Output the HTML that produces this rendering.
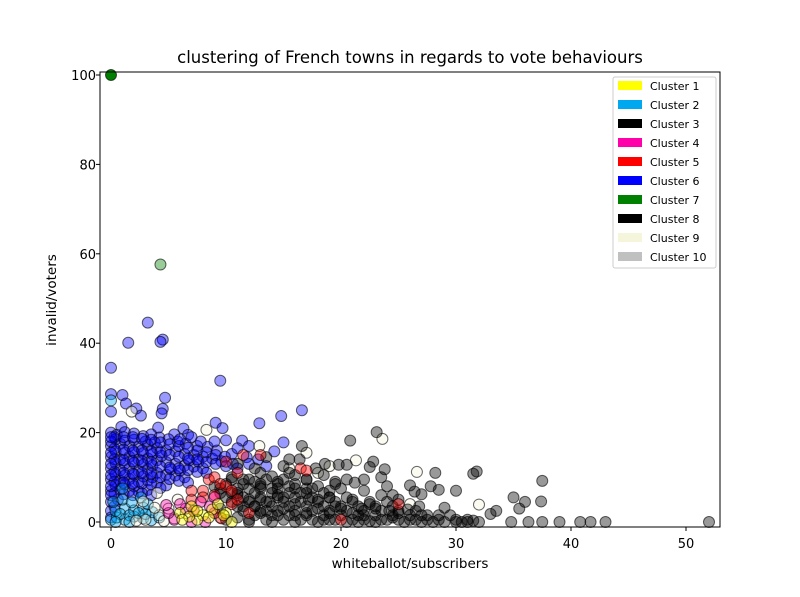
<!DOCTYPE html>
<html><head><meta charset="utf-8"><style>
body{margin:0;background:#fff;font-family:"Liberation Sans","DejaVu Sans",sans-serif}
svg text{font-family:"DejaVu Sans","Liberation Sans",sans-serif}
</style></head><body>
<svg id="chart" width="800" height="592">
<rect width="800" height="592" fill="#fff"/>
<text x="410" y="63" font-size="16.5" text-anchor="middle">clustering of French towns in regards to vote behaviours</text>
<g id="marks"></g>
<rect x="100" y="72" width="620" height="455" fill="none" stroke="#000" stroke-width="1"/>
<g id="axes"></g>
<text x="410" y="568" font-size="13.5" text-anchor="middle">whiteballot/subscribers</text>
<text transform="translate(56,300) rotate(-90)" font-size="13.5" text-anchor="middle">invalid/voters</text>
<g id="legend"></g>
</svg>
<script>
const xTicks=[0,10,20,30,40,50];
const yTicks=[0,20,40,60,80,100];
const clusterNames=["Cluster 1","Cluster 2","Cluster 3","Cluster 4","Cluster 5","Cluster 6","Cluster 7","Cluster 8","Cluster 9","Cluster 10"];
const clusterColors=["#ffff00","#00a8f0","#000000","#ff00aa","#ff0000","#0000ff","#008000","#000000","#f5f5dc","#c0c0c0"];
const blue=[[3.2,44.6],[1.5,40.1],[4.5,40.8],[4.3,40.3],[0,34.5],[9.5,31.6],[0,28.6],[1,28.4],[4.7,27.8],[1.3,26.5],[4.5,25.3],[2.2,25.4],[4.4,24.3],[0,24.7],[2.6,23.8],[14.8,23.7],[16.6,25],[9.1,22.2],[12.9,22.1],[0.9,21.3],[4.1,21.1],[6.3,20.9],[9.7,21],[6.7,19.5],[5.5,19.6],[10,18.3],[11.4,18.2],[15,17.8],[14.2,15.8],[12,17],
[0,20],[0.5,19.5],[1.2,20.1],[2,19.8],[2.8,19.2],[3.5,19.6],[4.2,18.9],[5,18.5],[5.8,18],[6.5,17.5],[7.5,17],[8.4,16.8],[9.2,16],[10.5,15.2],[11.8,14.5],[12.8,14],[0,17],[0.8,17.5],[1.6,17],[2.4,16.8],[3.2,17.2],[4,16.5],[4.8,16],[5.6,15.8],[6.4,15.2],[7.2,15],[8,14.6],[8.8,14.2],[9.6,13.6],[10.6,13],[0,14.5],[0.8,14],[1.6,14.6],[2.4,14],[3.2,14.2],[4,13.8],[4.8,13.4],[5.6,13],[6.4,12.6],[7.2,12.4],[8,12],[0,12],[0.8,11.6],[1.6,12],[2.4,11.4],[3.2,11.8],[4,11],[4.8,10.6],[5.6,10.4],[6.4,10],[0,9.5],[0.8,9.2],[1.6,9.6],[2.4,9],[3.2,9.3],[4,8.8],[4.8,8.2],[0,7],[0.8,7.4],[1.6,7],[2.4,6.8],[3.2,7.2],[0,4.5],[0.6,5],[0,2.5],[0,1],[13.5,12.5],[11,16.5],[7,19],[9,18],
[0.4,18.5],[1.2,18.2],[2,18.4],[3,18],[3.8,17.8],[0.4,15.8],[1.2,15.5],[2,15.6],[2.8,15.4],[3.6,15.2],[4.4,14.8],[0.4,13.2],[1.2,13],[2,13.2],[2.8,12.8],[3.6,12.6],[0.4,10.6],[1.2,10.4],[2,10.6],[2.8,10.2],[3.6,10],[0.4,8.2],[1.2,8.4],[2,8],[5.2,11.8],[6,11.5],[6.8,13.8],[7.6,13.5]];
const blue2=[[0.3,19],[1.1,19],[1.9,19],[2.7,18.6],[3.5,18.4],[4.3,17.8],[5.1,17.4],[5.9,17],[6.7,16.6],[7.5,16],[8.3,15.6],[9.1,15],[9.9,14.6],[0.3,16.4],[1.1,16.2],[1.9,16],[2.7,16],[3.5,15.8],[4.3,15.6],[5.1,15],[5.9,14.6],[6.7,14.2],[7.5,14],[8.3,13.4],[9.1,13],[0.3,14],[1.1,13.8],[1.9,13.6],[2.7,13.6],[3.5,13.4],[4.3,12.4],[5.1,12.2],[5.9,12],[6.7,11.6],[7.5,11.2],[8.3,11],[0.3,11.2],[1.1,11],[1.9,10.8],[2.7,11],[3.5,10.8],[4.3,10],[5.1,9.6],[5.9,9.2],[6.7,8.8],[0.3,9],[1.1,8.8],[1.9,8.6],[2.7,8.6],[3.5,8.4],[4.3,7.6],[0.3,6.4],[1.1,6.2],[1.9,6],[2.7,6.4],[3.5,6],[0.3,3.5],[0,6],[0,8],[0,10.5],[0,13],[0,15.5],[0,18],[0,19],[10,12.5],[11,12],[12,13],[6,18.5],[7.8,18]];
const cyan=[[0,0.5],[0.5,1],[1.2,0.5],[2,1.2],[2.8,0.8],[3.5,0.4],[0.4,2.5],[1.2,3],[2,2.6],[2.8,3.2],[3.6,2.2],[0.2,4.5],[1,5],[1.8,4.4],[2.6,5.5],[0,27.2],[1,7.5],[3,1.8],[4.2,1],[0.8,1.8],[1.6,1.5],[0.4,0],[1.6,0],[2.4,2],[3.2,4]];
const beige=[[8.3,20.6],[1.8,24.7],[12.9,17],[23.6,18.6],[21.3,13.8],[26.6,11.2],[32,3.9],[3,0.5],[4.2,1.5],[5,3],[2.2,0.3],[6.5,2],[5.5,0.8],[15.5,12],[18,11],[4,6.5],[9.5,1],[17,15.5],[19,12.5],[26,4],[3.8,3.2],[4.6,0.2],[2.8,4.6],[5.8,5]];
const yellow=[[6,2],[7,3.5],[8,1.5],[7.5,0.5],[8.8,2.8],[6.8,1.2],[9.3,4],[10,2],[7.5,2.5],[8.5,1],[9.8,1.5],[6.2,0.5],[10.5,0]];
const magenta=[[5.5,0.5],[6.5,3],[7.8,4.5],[8.2,0],[9,5.5],[5,2],[6,4],[8.6,3.5],[7,0],[4.8,3.8]];
const red=[[7,5],[8,7],[9,6],[10,8],[11,11],[11.5,15],[16.5,12],[17,11.5],[10.5,4],[12,2],[20,0.5],[8.5,9.5],[25,4],[7.2,2.5],[9.6,0.8],[9,10],[9.5,8.5],[10.5,7],[11,5],[8,5.5],[9,2],[7,7],[13,15],[10,13.5]];
const green=[[0,100],[4.3,57.6]];
const black=[[52,0],[43,0],[41.7,0],[40.8,0],[39,0],[37.5,0],[37.4,4.6],[37.5,9.2],[36.3,0],[36,4.5],[35,5.5],[35.5,3],[34.8,0],[33.5,2.5],[33,1.8],[32,0],[31.8,11.3],[31.5,10.8],[31,0],[30,0],[30,7],[29.5,1.5],[29,3.2],[28.5,7.2],[28.2,11],[27.8,8],[27.5,1.5],[27,6.2],[26.4,6.8],[26,8.2],[25,5],[24.5,6],[24,4.5],[23.8,11.8],[23.5,10],[23.1,20.1],[22.8,13.5],[22.5,12.3],[22,7],[21.8,3],[21.2,8.8],[20.8,18.2],[20.5,12.8],[19.8,12.8],[19.5,9],[19,2],[18.6,13],[18,8],[17.8,12],[17.2,5],[16.6,17],[16.4,14],[16,10.5],[15.5,8],[15,12.5],[14.5,6],[14,10.2],[13.5,2.5],[13,8],[12.5,12],[12,5],[11.5,9.5],[11,1],[10.5,6.5],[10,0.5],[9.5,3],[9,8],[23,0],[24.5,1],[25.5,0],[26.5,0.5],[28,0],[29,0],[20,3],[21,5],[22,1.5],[18,0],[19,5.5],[17,2],[16,0],[15,3],[14,0],[13,5],[12,0],[11.5,3.5],[20,7.5],[22.5,4],[23.5,6],[24.2,2.5],[25.8,2.8],[26.8,3.5],[18.5,10.5],[17,7.5],[16,4],[14.5,1.5],[13,11],[12,7.5],[10.5,10],[11,13],[13.5,14.5],[15.5,14],[30.5,0],[31.5,0.3],[20.5,0],[21.5,0],[22.5,0.2],[19.5,0.5],
[14,7.5],[15,5.5],[16.5,6.5],[18,5],[19.5,3.5],[21,2],[13,2],[14.5,9],[17,9.5],[19,7],[20.5,9.5],[22,9.5],[12.5,9],[11,6],[15.5,11],[18,3],[23,3],[24,8],[25,2],[27,0],[17.5,0.5],[16,1.5],[12.5,3.5],[13.8,4.5]];
const black2=[[12,0.5],[13.5,0.5],[15,0.5],[16.5,0.5],[18.5,0.5],[19,0.5],[21,0.5],[22,0.5],[23.5,0.5],[24,0.5],[25,0.5],[26,0.5],[27.5,0.5],[28.5,0.5],[30,0.5],[31,0.5],
[12.5,1.5],[14,1.5],[15.5,1.5],[17,1.5],[18.5,1.5],[20,1.5],[21.5,1.5],[23,1.5],[24.5,1.5],[26,1.5],[27,1.5],[28.5,1.5],
[11.5,2.5],[13,2.5],[14.5,2.5],[16,2.5],[17.5,2.5],[19,2.5],[20.5,2.5],[22,2.5],[23.5,2.5],[25,2.5],[26.5,2.5],
[11,3.5],[12.5,3.5],[14,3.5],[15.5,3.5],[17,3.5],[18.5,3.5],[20,3.5],[21.5,3.5],[23,3.5],[24.5,3.5],
[10.5,4.5],[12,4.5],[13.5,4.5],[15,4.5],[16.5,4.5],[18,4.5],[19.5,4.5],[21,4.5],[22.5,4.5],
[10,5.5],[11.5,5.5],[13,5.5],[14.5,5.5],[16,5.5],[17.5,5.5],[19,5.5],[20.5,5.5],
[9.5,6.5],[11,6.5],[12.5,6.5],[14,6.5],[15.5,6.5],[17,6.5],[18.5,6.5],
[9.5,7.5],[11,7.5],[13,7.5],[14.5,7.5],[16,7.5],[17.5,7.5],
[10,8.5],[11.5,8.5],[13,8.5],[14.5,8.5],[16,8.5],[19.5,8.5],
[10.5,9.5],[12,9.5],[13.5,9.5],[15,9.5],[17,9.5]];
const series=[[blue,5],[blue2,5],[cyan,1],[beige,8],[black,2],[black2,7],[red,4],[magenta,3],[yellow,0],[green,6]];
const sx=v=>111+v*11.5, sy=v=>522-v*4.47;
const NS="http://www.w3.org/2000/svg";
const marks=document.getElementById('marks');
series.forEach(([pts,ci])=>{
  pts.forEach(p=>{
    const c=document.createElementNS(NS,'circle');
    c.setAttribute('cx',sx(p[0]));c.setAttribute('cy',sy(p[1]));c.setAttribute('r',5.5);
    c.setAttribute('fill',clusterColors[ci]);
    c.setAttribute('fill-opacity',ci===6&&p[1]>90?1:0.4);
    c.setAttribute('stroke','#000');c.setAttribute('stroke-opacity',0.6);c.setAttribute('stroke-width',1);
    
    
    marks.appendChild(c);
  });
});
const axes=document.getElementById('axes');
xTicks.forEach(t=>{
  const l=document.createElementNS(NS,'line');
  l.setAttribute('x1',sx(t));l.setAttribute('x2',sx(t));l.setAttribute('y1',527);l.setAttribute('y2',531);l.setAttribute('stroke','#000');
  
  
  axes.appendChild(l);
  const tx=document.createElementNS(NS,'text');
  tx.setAttribute('x',sx(t));tx.setAttribute('y',548);tx.setAttribute('font-size','13');tx.setAttribute('text-anchor','middle');tx.textContent=t;
  
  
  axes.appendChild(tx);
});
yTicks.forEach(t=>{
  const l=document.createElementNS(NS,'line');
  l.setAttribute('x1',96);l.setAttribute('x2',100);l.setAttribute('y1',sy(t));l.setAttribute('y2',sy(t));l.setAttribute('stroke','#000');
  
  
  axes.appendChild(l);
  const tx=document.createElementNS(NS,'text');
  tx.setAttribute('x',96);tx.setAttribute('y',sy(t)+5);tx.setAttribute('font-size','13');tx.setAttribute('text-anchor','end');tx.textContent=t;
  
  
  axes.appendChild(tx);
});
const lg=document.getElementById('legend');
const box=document.createElementNS(NS,'rect');
box.setAttribute('x',613);box.setAttribute('y',77);box.setAttribute('width',103);box.setAttribute('height',191);box.setAttribute('rx',2);
box.setAttribute('fill','#fff');box.setAttribute('fill-opacity',0.8);box.setAttribute('stroke','#ccc');


lg.appendChild(box);
clusterNames.forEach((n,i)=>{
  const y=86+i*19;
  const r=document.createElementNS(NS,'rect');
  r.setAttribute('x',618);r.setAttribute('y',y-5);r.setAttribute('width',24);r.setAttribute('height',9);r.setAttribute('fill',clusterColors[i]);
  
  
  lg.appendChild(r);
  const t=document.createElementNS(NS,'text');
  t.setAttribute('x',650);t.setAttribute('y',y+4);t.setAttribute('font-size','11');t.textContent=n;
  
  
  lg.appendChild(t);
});
</script>
</body></html>
